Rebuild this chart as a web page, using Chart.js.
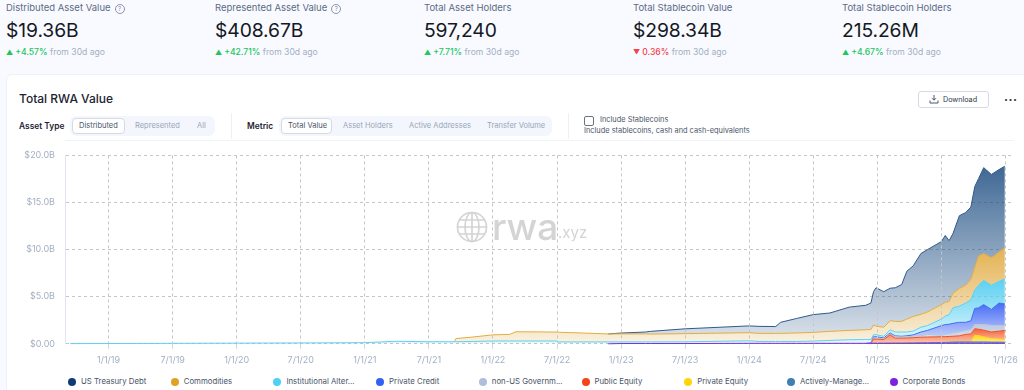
<!DOCTYPE html>
<html>
<head>
<meta charset="utf-8">
<title>Total RWA Value</title>
<script src="https://cdn.jsdelivr.net/npm/chart.js@4/dist/chart.umd.js"></script>
<style>
  html, body { margin: 0; padding: 0; }
  body { width: 1024px; height: 390px; overflow: hidden; background: #f8faff; font-family: Inter, "Noto Sans", sans-serif; position: relative; }
  .t { position: absolute; white-space: nowrap; line-height: 1; }
  .label { font-size: 9.5px; color: #5d6b84; top: 3px; }
  .value { font-size: 19.3px; color: #15181f; top: 21px; letter-spacing: -0.1px; }
  .delta { font-size: 8.6px; color: #a3afc4; top: 48px; }
  .up { color: #22c55e; font-weight: 500; }
  .down { color: #f43f4e; font-weight: 500; }
  .arrow { font-size: 7px; margin-right: 2px; }
  .help { display: inline-block; width: 8px; height: 8px; border: 1px solid #8b96a8; border-radius: 50%; font-size: 6px; line-height: 8px; text-align: center; color: #8b96a8; margin-left: 4px; vertical-align: 0; }
  #card { position: absolute; left: 6px; top: 74px; width: 1030px; height: 330px; background: #fff; border: 1px solid #eef1f6; border-radius: 6px; box-sizing: border-box; }
  .pill { position: absolute; top: 116px; height: 20px; background: #f3f6fc; border-radius: 6px; }
  .on { position: absolute; top: 118px; height: 16px; background: #fff; border: 1px solid #d5dbe6; border-radius: 4px; box-sizing: border-box; }
  .ctl { font-size: 7.5px; color: #9aa5b8; top: 122.3px; }
  .act { color: #4a5568; }
  .head { font-size: 8.4px; font-weight: 600; color: #1c2230; top: 122px; }
  .sep { position: absolute; top: 113px; width: 1px; height: 26px; background: #eef0f4; }
  #chartBox { position: absolute; left: 0; top: 140px; width: 1024px; height: 230px; }
  #legend { position: absolute; left: 0; top: 377px; font-size: 7.8px; color: #4a5568; }
  #legend span.dot { position: absolute; top: 1px; width: 8px; height: 8px; border-radius: 50%; }
  #legend span.name { position: absolute; top: 1px; white-space: nowrap; line-height: 1; }
  #wm { position: absolute; left: 456px; top: 211px; pointer-events: none; }
</style>
</head>
<body>
  <div class="t label" style="left:6px">Distributed Asset Value<span class="help">?</span></div>
  <div class="t value" style="left:6px">$19.36B</div>
  <div class="t delta" style="left:6px"><span class="up"><span class="arrow">▲</span>+4.57%</span> from 30d ago</div>

  <div class="t label" style="left:215px">Represented Asset Value<span class="help">?</span></div>
  <div class="t value" style="left:215px">$408.67B</div>
  <div class="t delta" style="left:215px"><span class="up"><span class="arrow">▲</span>+42.71%</span> from 30d ago</div>

  <div class="t label" style="left:424px">Total Asset Holders</div>
  <div class="t value" style="left:424px">597,240</div>
  <div class="t delta" style="left:424px"><span class="up"><span class="arrow">▲</span>+7.71%</span> from 30d ago</div>

  <div class="t label" style="left:633px">Total Stablecoin Value</div>
  <div class="t value" style="left:633px">$298.34B</div>
  <div class="t delta" style="left:633px"><span class="down"><span class="arrow">▼</span>0.36%</span> from 30d ago</div>

  <div class="t label" style="left:842px">Total Stablecoin Holders</div>
  <div class="t value" style="left:842px">215.26M</div>
  <div class="t delta" style="left:842px"><span class="up"><span class="arrow">▲</span>+4.67%</span> from 30d ago</div>

  <div id="card"></div>
  <div class="t" style="left:19px;top:93px;font-size:12px;font-weight:500;color:#1c2230">Total RWA Value</div>

  <div style="position:absolute;left:918px;top:91px;width:71px;height:17px;border:1px solid #d5dbe6;border-radius:3px;box-sizing:border-box;background:#fff"></div>
  <svg style="position:absolute;left:929px;top:94px" width="10" height="10" viewBox="0 0 10 10" fill="none" stroke="#4a5568" stroke-width="1"><path d="M5 1v5M3 4.2 5 6.2 7 4.2M1 6.5V9h8V6.5"/></svg>
  <div class="t" style="left:943px;top:95.5px;font-size:7.2px;color:#2d3748">Download</div>
  <div class="t" style="left:1004px;top:91px;font-size:12px;font-weight:700;color:#2d3748;letter-spacing:0.5px">...</div>

  <div class="t head" style="left:19px">Asset Type</div>
  <div class="pill" style="left:70px;width:145px"></div>
  <div class="on" style="left:72px;width:53px"></div>
  <div class="t ctl act" style="left:79px">Distributed</div>
  <div class="t ctl" style="left:135px">Represented</div>
  <div class="t ctl" style="left:197px">All</div>
  <div class="sep" style="left:231px"></div>

  <div class="t head" style="left:247px">Metric</div>
  <div class="pill" style="left:279px;width:273px"></div>
  <div class="on" style="left:281px;width:51px"></div>
  <div class="t ctl act" style="left:288px">Total Value</div>
  <div class="t ctl" style="left:343px">Asset Holders</div>
  <div class="t ctl" style="left:409px">Active Addresses</div>
  <div class="t ctl" style="left:487px">Transfer Volume</div>
  <div class="sep" style="left:568px"></div>

  <div style="position:absolute;left:584px;top:116px;width:10px;height:10px;box-sizing:border-box;border:1px solid #6b7280;border-radius:2px;background:#fff"></div>
  <div class="t" style="left:600px;top:116.3px;font-size:7.4px;color:#4a5568">Include Stablecoins</div>
  <div class="t" style="left:584px;top:127.3px;font-size:7.4px;color:#4a5568">Include stablecoins, cash and cash-equivalents</div>

  <div id="chartBox"><canvas id="rwaChart"></canvas></div>

  <div id="wm">
    <svg width="34" height="34" viewBox="0 0 34 34" fill="none" stroke="#d4d4d4" stroke-width="1.7" style="position:absolute;left:0;top:0">
      <circle cx="16" cy="16" r="14.5"/><ellipse cx="16" cy="16" rx="7" ry="14.5"/><path d="M16 1.5v29M1.5 16h29M3.5 9h25M3.5 23h25"/>
    </svg>
    <div class="t" style="left:36px;top:-3px;font-size:37px;line-height:38px;font-weight:500;color:#d4d4d4">rwa</div>
    <div class="t" style="left:102px;top:14px;font-size:15px;line-height:15px;color:#d4d4d4">.xyz</div>
  </div>

  <div id="legend"></div>

<script>
// dates as decimal years, values in $B per asset class
const dates = [2018.70, 2019, 2019.5, 2020, 2020.5, 2021, 2021.25, 2021.5, 2021.70, 2021.71, 2021.85, 2022, 2022.13, 2022.18, 2022.5, 2022.51, 2022.9, 2023, 2023.19, 2023.23, 2023.5, 2024, 2024.076, 2024.206, 2024.245, 2024.37, 2024.5, 2024.63, 2024.78, 2024.91, 2024.95, 2024.97, 2024.99, 2025.05, 2025.10, 2025.14, 2025.19, 2025.23, 2025.28, 2025.34, 2025.39, 2025.5, 2025.53, 2025.56, 2025.59, 2025.64, 2025.69, 2025.73, 2025.76, 2025.79, 2025.83, 2025.89, 2025.95, 2025.995];

const corporateBonds = [0, 0, 0, 0, 0, 0, 0, 0, 0, 0, 0, 0, 0, 0, 0, 0, 0, 0.03, 0.03, 0.03, 0.03, 0.05, 0.05, 0.05, 0.05, 0.05, 0.05, 0.05, 0.05, 0.05, 0.05, 0.05, 0.05, 0.05, 0.05, 0.05, 0.05, 0.05, 0.05, 0.05, 0.05, 0.05, 0.05, 0.05, 0.05, 0.05, 0.05, 0.05, 0.05, 0.05, 0.05, 0.05, 0.05, 0.05];
const activelyManaged = [0, 0, 0, 0, 0, 0, 0, 0, 0, 0, 0, 0, 0, 0, 0, 0, 0, 0, 0, 0, 0, 0, 0, 0, 0, 0, 0, 0, 0, 0, 0, 0.01, 0.01, 0.01, 0.02, 0.02, 0.02, 0.03, 0.04, 0.05, 0.06, 0.09, 0.1, 0.11, 0.14, 0.15, 0.15, 0.15, 0.15, 0.15, 0.15, 0.13, 0.13, 0.12];
const privateEquity = [0, 0, 0, 0, 0, 0, 0, 0, 0, 0, 0, 0, 0, 0, 0, 0, 0, 0, 0, 0, 0, 0, 0, 0, 0, 0, 0, 0, 0, 0, 0, 0.01, 0.01, 0.01, 0.01, 0.01, 0.01, 0.01, 0.01, 0.01, 0.01, 0.01, 0.01, 0.01, 0.01, 0.02, 0.02, 0.05, 0.7, 0.65, 0.55, 0.38, 0.32, 0.29];
const publicEquity = [0, 0, 0, 0, 0, 0, 0, 0, 0, 0, 0, 0, 0, 0, 0, 0, 0, 0, 0, 0, 0, 0, 0, 0, 0, 0, 0, 0, 0, 0, 0, 0.43, 0.43, 0.38, 0.87, 0.52, 0.52, 0.53, 0.55, 0.59, 0.6, 0.6, 0.6, 0.61, 0.6, 0.63, 0.78, 0.8, 0.7, 0.7, 0.7, 0.69, 0.85, 0.96];
const nonUsGovernment = [0, 0, 0, 0, 0, 0, 0, 0, 0, 0, 0, 0, 0, 0, 0, 0, 0, 0, 0, 0, 0, 0, 0, 0, 0, 0, 0, 0, 0, 0, 0, 0.1, 0.1, 0.1, 0.1, 0.15, 0.12, 0.13, 0.15, 0.15, 0.28, 0.15, 0.24, 0.27, 0.35, 0.4, 0.4, 0.47, 0.44, 0.49, 0.59, 0.7, 0.6, 0.51];
const privateCredit = [0, 0, 0, 0, 0, 0, 0, 0, 0, 0, 0, 0, 0, 0, 0, 0, 0, 0, 0, 0, 0, 0, 0, 0, 0, 0, 0, 0, 0, 0, 0.05, 0.15, 0.15, 0.08, 0.1, 0.09, 0.08, 0.1, 0.15, 0.4, 0.42, 1.03, 1.04, 1.03, 1.02, 1.03, 0.88, 0.93, 1.71, 1.78, 2.12, 1.7, 2.38, 2.3];
const institutionalAlt = [0.02, 0.03, 0.05, 0.07, 0.09, 0.12, 0.27, 0.22, 0.22, 0.22, 0.25, 0.3, 0.3, 0.3, 0.3, 0.2, 0.2, 0.17, 0.17, 0.17, 0.18, 0.27, 0.2, 0.2, 0.2, 0.2, 0.24, 0.31, 0.38, 0.41, 0.36, 0.22, 0.22, 0.17, 0.34, 0.41, 0.45, 0.4, 0.4, 0.51, 0.51, 0.69, 0.91, 1.02, 1.65, 1.72, 2.05, 2.23, 1.95, 2.4, 2.57, 2.57, 2.3, 2.67];
const commodities = [0, 0, 0, 0, 0, 0, 0, 0, 0, 0.33, 0.48, 0.65, 0.7, 0.98, 0.95, 1.03, 0.85, 0.85, 0.85, 0.83, 0.87, 0.86, 0.86, 0.86, 0.86, 0.9, 0.92, 0.96, 0.99, 1.03, 1.06, 1.03, 0.9, 0.96, 0.96, 1.13, 1.13, 1.37, 1.55, 1.37, 1.44, 1.54, 1.45, 1.4, 1.54, 1.88, 1.89, 2.16, 2.4, 3.09, 2.85, 2.91, 3.09, 3.3];
const usTreasuryDebt = [0, 0, 0, 0, 0, 0, 0, 0, 0, 0, 0, 0, 0, 0, 0, 0, 0, 0.09, 0.2, 0.29, 0.51, 0.72, 0.74, 0.72, 1.17, 1.54, 1.89, 1.95, 2.47, 2.6, 2.81, 3.53, 4.08, 3.77, 3.45, 3.57, 3.91, 5.08, 5.38, 6.45, 6.62, 6.69, 7.1, 6.45, 6.34, 7.72, 7.72, 7.68, 8.58, 8.23, 9.12, 8.85, 8.78, 8.65];

const xTickValues = [2019, 2019.5, 2020, 2020.5, 2021, 2021.5, 2022, 2022.5, 2023, 2023.5, 2024, 2024.5, 2025, 2025.5, 2026];
const xTickLabels = ['1/1/19', '7/1/19', '1/1/20', '7/1/20', '1/1/21', '7/1/21', '1/1/22', '7/1/22', '1/1/23', '7/1/23', '1/1/24', '7/1/24', '1/1/25', '7/1/25', '1/1/26'];
const yTickLabels = ['$0.00', '$5.0B', '$10.0B', '$15.0B', '$20.0B'];

// bottom of the stack first
const seriesList = [
    { name: 'Corporate Bonds', values: corporateBonds, line: '#7c2fe0', top: 'rgba(124,47,224,0.9)', bottom: 'rgba(124,47,224,0.5)' },
    { name: 'Actively-Manage...', values: activelyManaged, line: '#4a82b8', top: 'rgba(74,130,184,0.9)', bottom: 'rgba(120,140,110,0.6)' },
    { name: 'Private Equity', values: privateEquity, line: '#ffd60a', top: 'rgba(255,214,10,0.95)', bottom: 'rgba(255,225,90,0.6)' },
    { name: 'Public Equity', values: publicEquity, line: '#f4511e', top: 'rgba(244,81,30,0.9)', bottom: 'rgba(244,81,30,0.3)' },
    { name: 'non-US Governm...', values: nonUsGovernment, line: '#b5c5dd', top: 'rgba(181,197,221,0.9)', bottom: 'rgba(181,197,221,0.4)' },
    { name: 'Private Credit', values: privateCredit, line: '#3d6ef5', top: 'rgba(61,100,245,0.95)', bottom: 'rgba(61,100,245,0.2)' },
    { name: 'Institutional Alter...', values: institutionalAlt, line: '#5fd0ef', top: 'rgba(80,205,240,0.95)', bottom: 'rgba(80,205,240,0.15)' },
    { name: 'Commodities', values: commodities, line: '#e3ac3f', top: 'rgba(224,168,60,0.9)', bottom: 'rgba(224,168,60,0.15)' },
    { name: 'US Treasury Debt', values: usTreasuryDebt, line: '#2f5a8c', top: 'rgba(30,78,130,0.85)', bottom: 'rgba(30,78,130,0.15)' }
];

const legendOrder = ['US Treasury Debt', 'Commodities', 'Institutional Alter...', 'Private Credit', 'non-US Governm...', 'Public Equity', 'Private Equity', 'Actively-Manage...', 'Corporate Bonds'];
const legendColors = ['#0f3d73', '#dfa324', '#4fd0f5', '#2f62f5', '#aebfdc', '#f4451a', '#ffd60a', '#3f7fb5', '#7e22e0'];

function buildLegend() {
    const box = document.getElementById('legend');
    box.innerHTML = legendOrder.map((name, i) => {
        const x = 68 + i * 102.7;
        return `<span class="dot" style="left:${x}px;background:${legendColors[i]}"></span><span class="name" style="left:${x + 13}px">${name}</span>`;
    }).join('');
}

// highest stacked value of one series, so its gradient spans its own height
function stackTop(index) {
    let max = 0;
    dates.forEach((_, d) => {
        let sum = 0;
        for (let s = 0; s <= index; s++) sum += seriesList[s].values[d];
        max = Math.max(max, sum);
    });
    return max;
}

function areaFill(ctx, index) {
    const s = seriesList[index];
    const chart = ctx.chart;
    if (!chart.chartArea || !chart.scales.y) return s.top;
    const y = chart.scales.y;
    const g = chart.ctx.createLinearGradient(0, y.getPixelForValue(stackTop(index)), 0, y.getPixelForValue(0));
    g.addColorStop(0, s.top);
    g.addColorStop(1, s.bottom);
    return g;
}

function buildChart() {
    new Chart(document.getElementById('rwaChart'), {
        type: 'line',
        data: {
            labels: dates,
            datasets: seriesList.map((s, i) => ({
                label: s.name,
                data: s.values.map((v, d) => ({ x: dates[d], y: v })),
                borderColor: s.line,
                borderWidth: 1,
                backgroundColor: (ctx) => areaFill(ctx, i),
                fill: i === 0 ? 'origin' : '-1',
                pointRadius: 0,
                tension: 0,
                clip: 3,
                // a series that has not started yet draws no line along the stack
                segment: { borderColor: (c) => (c.p0.parsed.y === 0 && c.p1.parsed.y === 0) ? 'transparent' : undefined }
            }))
        },
        options: {
            responsive: true,
            maintainAspectRatio: false,
            animation: false,
            layout: { padding: { top: 9.4, right: 9, left: 0, bottom: 0 } },
            plugins: { legend: { display: false }, tooltip: { enabled: false } },
            scales: {
                x: {
                    type: 'linear',
                    min: 2018.66,
                    max: 2026.06,
                    afterFit: (s) => { s.height = 26.2; },
                    afterBuildTicks: (s) => { s.ticks = xTickValues.map((value) => ({ value })); },
                    grid: { color: '#c6c6c6', tickColor: '#d0d5de', tickLength: 5, tickBorderDash: [], z: 1 },
                    border: { dash: [3, 3], color: '#e2e7f0' },
                    ticks: {
                        autoSkip: false,
                        maxRotation: 0,
                        padding: 6,
                        color: '#a3afc4',
                        font: { family: 'Inter', size: 9 },
                        callback: (v) => xTickLabels[xTickValues.indexOf(v)]
                    }
                },
                y: {
                    stacked: true,
                    min: 0,
                    max: 20,
                    afterFit: (s) => { s.width = 65; },
                    grid: { color: '#c6c6c6', drawTicks: false },
                    border: { dash: [3, 3], color: '#dfe5f0' },
                    ticks: {
                        stepSize: 5,
                        padding: 10,
                        color: '#a3afc4',
                        font: { family: 'Inter', size: 9 },
                        callback: (v) => yTickLabels[v / 5]
                    }
                }
            }
        }
    });
}

buildLegend();
buildChart();
</script>
</body>
</html>
